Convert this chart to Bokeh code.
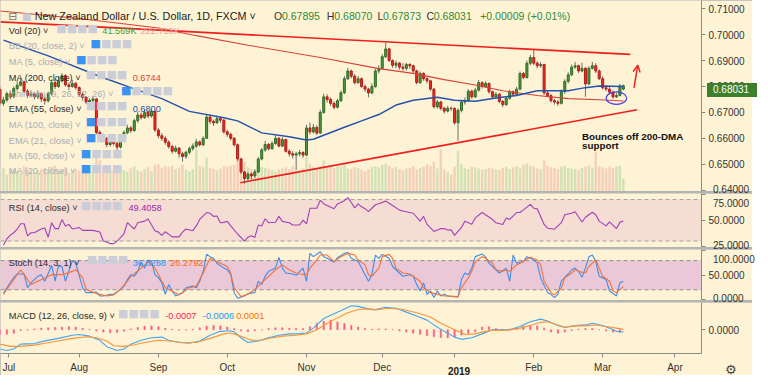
import pandas as pd
from bokeh.plotting import figure
from bokeh.layouts import column
from bokeh.models import (Range1d, FixedTicker, PrintfTickFormatter, Label, Arrow,
                          OpenHead, Span, BoxAnnotation, ColumnDataSource, Div)
from bokeh.embed import file_html
from bokeh.resources import INLINE

# ---------------------------------------------------------------- data
dates = pd.bdate_range("2018-06-29", "2019-03-11")          # one bar per weekday
axis_dates = pd.bdate_range("2018-06-29", "2019-04-30")     # incl. empty future space
month_labels = ["Jul", "Aug", "Sep", "Oct", "Nov", "Dec", "2019", "Feb", "Mar", "Apr"]

first_open = 0.6790
last_open = 0.67895
close = [
    0.6735, 0.6748, 0.6772, 0.6760, 0.6792, 0.6805, 0.6818, 0.6782, 0.6766, 0.6771,
    0.6760, 0.6772, 0.6752, 0.6745, 0.6772, 0.6815, 0.6800, 0.6822, 0.6842, 0.6806,
    0.6800, 0.6812, 0.6796, 0.6770, 0.6758, 0.6740, 0.6746, 0.6752, 0.6622, 0.6610,
    0.6600, 0.6576, 0.6590, 0.6580, 0.6566, 0.6598, 0.6622, 0.6640, 0.6630, 0.6668,
    0.6690, 0.6680, 0.6700, 0.6686, 0.6704, 0.6632, 0.6610, 0.6600, 0.6585, 0.6568,
    0.6550, 0.6562, 0.6540, 0.6530, 0.6546, 0.6560, 0.6570, 0.6586, 0.6575, 0.6600,
    0.6682, 0.6665, 0.6660, 0.6676, 0.6670, 0.6625, 0.6615, 0.6600, 0.6575, 0.6520,
    0.6470, 0.6445, 0.6462, 0.6455, 0.6470, 0.6520, 0.6555, 0.6576, 0.6560, 0.6580,
    0.6600, 0.6570, 0.6595, 0.6550, 0.6540, 0.6535, 0.6540, 0.6545, 0.6535, 0.6640,
    0.6625, 0.6642, 0.6620, 0.6700, 0.6760, 0.6750, 0.6735, 0.6720, 0.6745, 0.6776,
    0.6830, 0.6860, 0.6840, 0.6815, 0.6830, 0.6800, 0.6790, 0.6775, 0.6800, 0.6860,
    0.6870, 0.6915, 0.6945, 0.6900, 0.6882, 0.6890, 0.6875, 0.6870, 0.6885, 0.6880,
    0.6860, 0.6815, 0.6850, 0.6830, 0.6822, 0.6790, 0.6722, 0.6740, 0.6716, 0.6705,
    0.6716, 0.6715, 0.6660, 0.6708, 0.6740, 0.6745, 0.6782, 0.6760, 0.6786, 0.6815,
    0.6800, 0.6812, 0.6780, 0.6760, 0.6770, 0.6742, 0.6730, 0.6755, 0.6780, 0.6770,
    0.6790, 0.6850, 0.6835, 0.6890, 0.6912, 0.6890, 0.6880, 0.6885, 0.6775, 0.6765,
    0.6745, 0.6740, 0.6735, 0.6780, 0.6820, 0.6845, 0.6875, 0.6880, 0.6860, 0.6870,
    0.6810, 0.6870, 0.6880, 0.6860, 0.6830, 0.6795, 0.6790, 0.6778, 0.6760, 0.6765,
    0.6802, 0.68031,
]
high = [
    0.6800, 0.6760, 0.6780, 0.6785, 0.6800, 0.6820, 0.6830, 0.6822, 0.6790, 0.6785,
    0.6778, 0.6783, 0.6776, 0.6760, 0.6780, 0.6826, 0.6830, 0.6838, 0.6852, 0.6848,
    0.6815, 0.6825, 0.6818, 0.6800, 0.6778, 0.6762, 0.6755, 0.6762, 0.6756, 0.6630,
    0.6618, 0.6605, 0.6598, 0.6595, 0.6588, 0.6605, 0.6630, 0.6652, 0.6648, 0.6676,
    0.6702, 0.6700, 0.6712, 0.6708, 0.6712, 0.6706, 0.6640, 0.6620, 0.6608, 0.6592,
    0.6575, 0.6572, 0.6566, 0.6548, 0.6552, 0.6568, 0.6580, 0.6598, 0.6592, 0.6608,
    0.6690, 0.6692, 0.6672, 0.6688, 0.6684, 0.6675, 0.6632, 0.6622, 0.6605, 0.6580,
    0.6525, 0.6475, 0.6470, 0.6468, 0.6480, 0.6528, 0.6562, 0.6590, 0.6582, 0.6588,
    0.6612, 0.6605, 0.6604, 0.6598, 0.6558, 0.6550, 0.6548, 0.6555, 0.6550, 0.6652,
    0.6660, 0.6655, 0.6650, 0.6710, 0.6772, 0.6770, 0.6758, 0.6742, 0.6752, 0.6785,
    0.6840, 0.6872, 0.6865, 0.6848, 0.6840, 0.6835, 0.6808, 0.6795, 0.6812, 0.6868,
    0.6882, 0.6925, 0.6968, 0.6950, 0.6905, 0.6900, 0.6895, 0.6890, 0.6892, 0.6890,
    0.6884, 0.6865, 0.6858, 0.6855, 0.6840, 0.6826, 0.6795, 0.6748, 0.6745, 0.6722,
    0.6725, 0.6722, 0.6720, 0.6715, 0.6748, 0.6758, 0.6790, 0.6788, 0.6795, 0.6825,
    0.6820, 0.6820, 0.6815, 0.6785, 0.6778, 0.6775, 0.6748, 0.6762, 0.6788, 0.6785,
    0.6798, 0.6858, 0.6856, 0.6900, 0.6922, 0.6942, 0.6898, 0.6895, 0.6888, 0.6782,
    0.6770, 0.6752, 0.6748, 0.6788, 0.6828, 0.6855, 0.6885, 0.6895, 0.6885, 0.6892,
    0.6875, 0.6878, 0.6895, 0.6890, 0.6866, 0.6840, 0.6805, 0.6798, 0.6785, 0.6775,
    0.6810, 0.68070,
]
low = [
    0.6725, 0.6725, 0.6740, 0.6750, 0.6755, 0.6785, 0.6800, 0.6775, 0.6755, 0.6758,
    0.6750, 0.6752, 0.6740, 0.6730, 0.6738, 0.6765, 0.6790, 0.6795, 0.6815, 0.6800,
    0.6785, 0.6795, 0.6788, 0.6762, 0.6745, 0.6732, 0.6730, 0.6738, 0.6615, 0.6595,
    0.6585, 0.6565, 0.6568, 0.6572, 0.6555, 0.6560, 0.6590, 0.6615, 0.6620, 0.6625,
    0.6660, 0.6672, 0.6675, 0.6678, 0.6680, 0.6625, 0.6600, 0.6590, 0.6575, 0.6560,
    0.6540, 0.6545, 0.6525, 0.6510, 0.6520, 0.6538, 0.6552, 0.6562, 0.6568, 0.6570,
    0.6598, 0.6655, 0.6648, 0.6655, 0.6660, 0.6618, 0.6605, 0.6592, 0.6568, 0.6512,
    0.6462, 0.6425, 0.6436, 0.6440, 0.6448, 0.6466, 0.6515, 0.6548, 0.6552, 0.6555,
    0.6575, 0.6565, 0.6566, 0.6545, 0.6530, 0.6522, 0.6480, 0.6530, 0.6525, 0.6532,
    0.6615, 0.6618, 0.6612, 0.6618, 0.6695, 0.6738, 0.6725, 0.6712, 0.6715, 0.6740,
    0.6770, 0.6825, 0.6832, 0.6808, 0.6810, 0.6795, 0.6780, 0.6758, 0.6770, 0.6795,
    0.6850, 0.6865, 0.6910, 0.6895, 0.6872, 0.6870, 0.6865, 0.6860, 0.6862, 0.6868,
    0.6850, 0.6808, 0.6810, 0.6822, 0.6812, 0.6782, 0.6715, 0.6715, 0.6708, 0.6695,
    0.6700, 0.6705, 0.6652, 0.6590, 0.6700, 0.6730, 0.6740, 0.6752, 0.6755, 0.6780,
    0.6792, 0.6795, 0.6772, 0.6752, 0.6755, 0.6735, 0.6720, 0.6725, 0.6748, 0.6762,
    0.6765, 0.6785, 0.6828, 0.6830, 0.6882, 0.6882, 0.6870, 0.6872, 0.6768, 0.6758,
    0.6738, 0.6730, 0.6725, 0.6730, 0.6772, 0.6812, 0.6840, 0.6868, 0.6852, 0.6855,
    0.6760, 0.6805, 0.6865, 0.6852, 0.6825, 0.6788, 0.6782, 0.6770, 0.6752, 0.6755,
    0.6762, 0.67873,
]
volume_k = [
    70, 85, 60, 75, 80, 72, 65, 90, 78, 70,
    68, 74, 80, 85, 77, 88, 92, 70, 76, 84,
    66, 72, 80, 75, 70, 68, 74, 95, 130, 110,
    90, 85, 80, 78, 84, 88, 76, 70, 82, 90,
    75, 70, 80, 86, 72, 95, 98, 85, 90, 88,
    92, 80, 85, 95, 78, 72, 80, 150, 92, 88,
    120, 84, 80, 76, 82, 90, 88, 92, 95, 110,
    120, 105, 86, 80, 78, 92, 88, 84, 80, 76,
    72, 78, 82, 86, 80, 90, 84, 78, 82, 125,
    100, 88, 82, 90, 110, 92, 86, 84, 88, 90,
    96, 82, 80, 86, 84, 78, 72, 80, 88, 90,
    86, 95, 100, 92, 84, 88, 80, 76, 82, 85,
    90, 78, 84, 88, 96, 92, 105, 82, 150, 78,
    70, 60, 88, 145, 96, 84, 80, 88, 86, 82,
    78, 80, 85, 82, 78, 76, 84, 88, 80, 86,
    90, 82, 95, 100, 92, 88, 82, 80, 110, 92,
    86, 84, 80, 88, 92, 84, 82, 80, 76, 84,
    88, 92, 85, 140, 90, 86, 82, 88, 84, 90,
    92, 45,
]

# (bar, value) readings of the moving averages
ma200 = [(0, 0.70917), (23, 0.70624), (46, 0.70257), (57, 0.69963), (72, 0.69596),
         (93, 0.69119), (110, 0.68690), (120, 0.68506), (129, 0.68264), (138, 0.68055),
         (146, 0.67835), (156, 0.67651), (165, 0.67530), (174, 0.67486), (181, 0.67440)]
ema55 = [(1, 0.69791), (14, 0.69182), (29, 0.68385), (38, 0.67956), (47, 0.67530),
         (55, 0.67039), (65, 0.66796), (69, 0.66672), (76, 0.66209), (84, 0.66062),
         (89, 0.65938), (91, 0.65963), (100, 0.66429), (105, 0.66672), (110, 0.66917),
         (115, 0.67284), (120, 0.67468), (127, 0.67589), (132, 0.67468), (138, 0.67431),
         (144, 0.67552), (150, 0.67651), (156, 0.67835), (165, 0.67835), (170, 0.67956),
         (174, 0.68018), (181, 0.68000)]

rsi = [(1, 26), (2, 32), (3, 35.7), (4, 38), (5, 41.4), (6, 46.7), (7, 46.7), (8, 35), (9, 38),
       (10, 38), (11, 40), (12, 41.6), (13, 42.6), (14, 33.7), (15, 47.7), (16, 42), (17, 42),
       (18, 50.7), (19, 44.5), (20, 46), (21, 41.6), (23, 43), (24, 40.3), (26, 40.3), (27, 40.3),
       (29, 38.7), (30, 30), (31, 29), (32, 27.5), (33, 27.5), (34, 29.8), (36, 37), (37, 47.7),
       (38, 44.6), (39, 41.6), (40, 47.7), (42, 49.2), (43, 51.3), (45, 40), (46, 38.6), (47, 35.5),
       (48, 39), (50, 34), (52, 34), (53, 38.6), (54, 41.6), (56, 40), (57, 44.6), (58, 50.8),
       (60, 57.5), (61, 56.8), (62, 53.8), (63, 54.2), (64, 47.7), (65, 48), (66, 49), (67, 44.6),
       (69, 36.8), (71, 30), (72, 33.7), (73, 35), (74, 33.5), (75, 45.4), (76, 44.5), (77, 51.5),
       (78, 47.7), (80, 48.2), (81, 53.8), (82, 49), (84, 47.7), (85, 45.5), (87, 45.5), (88, 50.2),
       (89, 46.5), (90, 61.6), (92, 61.6), (93, 69.3), (94, 66), (95, 64.3), (97, 61.2), (98, 65.8),
       (100, 68.9), (101, 71.9), (102, 67.2), (103, 62), (104, 65.8), (105, 63), (106, 61.2),
       (107, 58.3), (109, 65), (110, 66), (112, 68.5), (113, 66.5), (114, 64.3), (116, 59.8),
       (117, 59), (119, 57.5), (120, 56.8), (122, 49.2), (123, 53.8), (124, 46.1), (126, 39.3),
       (128, 42), (129, 42), (130, 40.6), (131, 40.8), (132, 35.5), (134, 43.1), (135, 49.2),
       (137, 46.2), (138, 52.3), (140, 57.5), (141, 55.3), (143, 50.8), (144, 47.7), (146, 46),
       (147, 52.3), (148, 50.8), (150, 57.5), (151, 57.5), (152, 60.1), (154, 65.4), (155, 61.7),
       (156, 61.2), (158, 46), (159, 42.4), (161, 41.4), (163, 47.7), (164, 55.3), (166, 56.8),
       (167, 58.3), (169, 48.4), (170, 53), (172, 57.8), (173, 55.3), (174, 49.2), (176, 44.6),
       (177, 48.4), (179, 42), (180, 48), (181, 49.4)]

stoch_k = [(1, 12.1), (2, 24.2), (3, 35), (4, 45), (5, 52.5), (7, 52.5), (8, 24.2), (9, 34.3),
           (11, 47.7), (12, 51.1), (13, 37.6), (15, 70), (16, 37.6), (17, 70), (18, 67.9), (19, 37.6),
           (21, 79.4), (22, 74.7), (24, 24.2), (25, 14.1), (27, 14.1), (28, 15.4), (29, 7.3), (30, 7.3),
           (32, 10.7), (33, 10.7), (35, 20.8), (36, 27.5), (37, 41), (38, 51.1), (39, 47.7), (40, 57.9),
           (41, 76.7), (42, 64.6), (43, 81.4), (44, 78), (45, 51.1), (46, 45), (47, 34.3), (48, 10.7),
           (49, 30.9), (50, 17.4), (51, 7.3), (52, 10.7), (53, 14.1), (54, 24.2), (56, 27.5), (57, 24.2),
           (58, 37.6), (59, 57.9), (60, 93), (61, 88.2), (62, 84.8), (63, 74.7), (65, 64.6), (66, 61.2),
           (67, 51.1), (68, 14), (69, 2.6), (71, 7.3), (72, 12.1), (74, 14.1), (75, 37.6), (76, 30.9),
           (77, 47.7), (78, 57.9), (80, 64.6), (81, 86.8), (82, 64.6), (83, 54.5), (85, 52.5), (86, 49.8),
           (88, 64.6), (89, 37.6), (90, 94.9), (91, 88.2), (93, 98.3), (94, 88.2), (95, 84.8), (97, 76.7),
           (98, 86.1), (100, 94.9), (101, 96.9), (102, 84.8), (104, 78), (105, 64.6), (107, 37.6),
           (108, 51.1), (109, 91.5), (110, 84.8), (111, 92.9), (113, 84.8), (114, 67.9), (116, 54.5),
           (117, 47.7), (119, 51.1), (120, 47.7), (121, 30.9), (122, 17.4), (123, 34.3), (124, 10.7),
           (125, 17.4), (126, 4.0), (127, 17.4), (128, 7.3), (129, 10.7), (130, 7.3), (131, 6.0),
           (133, 5.3), (134, 41), (135, 54.5), (136, 51.1), (137, 64.6), (138, 88.2), (140, 93.5),
           (141, 88.2), (142, 74.7), (144, 61.2), (145, 54.5), (147, 64.6), (148, 37.6), (149, 91.5),
           (150, 74.7), (152, 78), (153, 88.2), (154, 84.8), (155, 81.4), (156, 74.7), (157, 44.4),
           (159, 14.1), (160, 10.7), (161, 4.0), (162, 10.7), (163, 37.6), (165, 52.5), (166, 61.2),
           (167, 64.6), (168, 57.9), (169, 45.7), (170, 64.6), (171, 88.2), (172, 91.5), (173, 78),
           (174, 47.7), (176, 41), (177, 17.4), (179, 7.3), (180, 34.3), (181, 36.8)]
stoch_d = [(1, 10.7), (3, 30.9), (6, 61.2), (7, 51.1), (9, 30.9), (13, 44.4), (15, 51.1), (18, 51.1),
           (21, 57.9), (22, 61.2), (24, 44.4), (25, 20.8), (28, 12.1), (31, 7.3), (33, 9.4), (35, 20.8),
           (37, 37.6), (38, 47.7), (41, 64.6), (43, 78), (45, 64.6), (47, 37.6), (48, 24.2), (50, 17.4),
           (52, 9.4), (53, 14.1), (55, 24.2), (57, 27.5), (59, 54.5), (61, 84.8), (62, 81.4), (64, 74.7),
           (66, 68), (67, 54.5), (68, 24.2), (70, 6.0), (72, 10.7), (74, 20.8), (76, 34.3), (78, 47.7),
           (80, 61.2), (82, 71.3), (84, 61.2), (86, 54.5), (87, 52.5), (89, 51.1), (90, 64.6), (92, 81.4),
           (93, 91.5), (95, 91.5), (96, 84.8), (97, 78), (99, 88.2), (101, 94.9), (103, 91.5), (104, 81.4),
           (106, 71.3), (107, 51.1), (108, 47.7), (110, 64.6), (111, 88.2), (113, 92.9), (114, 84.8),
           (115, 64.6), (117, 54.5), (119, 52.5), (120, 47.7), (122, 37.6), (123, 24.2), (125, 14.1),
           (127, 10.7), (129, 7.3), (131, 7.3), (133, 5.3), (134, 24.2), (136, 44.4), (137, 57.9),
           (138, 78), (140, 88.2), (141, 84.8), (143, 74.7), (144, 61.2), (146, 57.9), (147, 61.2),
           (148, 57.9), (150, 71.3), (151, 74.7), (153, 83.4), (154, 86.8), (156, 81.4), (157, 71.3),
           (158, 37.6), (160, 14.1), (161, 9.4), (163, 24.2), (164, 44.4), (166, 54.5), (167, 61.2),
           (168, 57.9), (170, 54.5), (171, 67.9), (173, 81.4), (174, 64.6), (175, 47.7), (177, 37.6),
           (178, 17.4), (179, 14.1), (181, 26.3)]

# MACD values in thousandths of a price unit
macd_line = [(0, -5.0), (2, -5.4), (4, -5.0), (6, -3.75), (10, -3.6), (13, -2.9), (17, -2.25),
             (21, -1.42), (23, -1.25), (26, -1.67), (29, -2.75), (31, -4.4), (34, -5.4), (36, -5.0),
             (38, -3.75), (41, -2.75), (44, -2.08), (47, -1.92), (49, -2.75), (52, -3.33), (55, -3.5),
             (58, -2.92), (61, -1.42), (64, -0.42), (67, -0.25), (68, -0.58), (70, -2.08), (72, -3.33),
             (75, -2.92), (78, -2.08), (81, -1.42), (84, -1.08), (86, -1.08), (89, -0.83), (91, 0.42),
             (94, 2.92), (97, 4.17), (100, 5.42), (102, 6.25), (104, 6.08), (107, 5.42), (109, 5.25),
             (112, 5.83), (115, 5.58), (118, 4.58), (121, 3.58), (124, 2.5), (126, 1.25), (129, -0.42),
             (132, -1.92), (134, -2.5), (137, -2.08), (140, -1.08), (143, 0.0), (145, 0.0), (148, 0.0),
             (151, 0.83), (154, 2.08), (157, 2.75), (159, 2.25), (162, 1.08), (164, 0.58), (167, 1.08),
             (170, 1.25), (172, 1.67), (175, 1.08), (177, 0.42), (179, -0.42), (181, -0.6)]
macd_signal = [(0, -3.75), (3, -4.33), (6, -4.33), (10, -4.0), (13, -3.5), (17, -2.92), (21, -2.25),
               (25, -1.83), (28, -2.08), (31, -2.92), (33, -4.17), (36, -4.33), (39, -3.92), (42, -3.33),
               (46, -2.75), (49, -2.92), (53, -3.33), (57, -3.33), (61, -2.25), (65, -1.08), (67, -0.83),
               (70, -1.67), (73, -2.75), (76, -2.75), (79, -2.08), (82, -1.67), (86, -1.42), (89, -1.08),
               (92, 0.0), (95, 1.67), (98, 3.08), (101, 4.42), (104, 5.25), (106, 5.42), (109, 5.17),
               (113, 5.58), (117, 5.25), (121, 4.42), (125, 3.33), (128, 1.67), (132, 0.0), (135, -1.25),
               (138, -1.08), (141, -0.42), (143, -0.17), (147, -0.17), (151, 0.42), (154, 1.08),
               (157, 1.92), (159, 2.08), (162, 1.25), (164, 0.67), (167, 1.0), (170, 1.0), (173, 1.25),
               (176, 0.83), (179, 0.42), (181, 0.1)]
# histogram read at every second bar (bars 0, 2, 4, ...)
macd_hist = [-1.3, -1.2, -0.9, -0.2, -0.1, 0.2, 0.4, 0.5, 0.6, 0.7,
             0.8, 0.7, 0.4, 0.1, -0.3, -0.6, -0.8, -0.7, -0.4, 0.2,
             0.6, 0.9, 1.0, 0.8, 0.4, 0.1, -0.1, -0.1, 0.1, 0.5,
             0.9, 1.1, 1.0, 0.7, 0.3, -0.3, -0.5, -0.3, 0.0, 0.3,
             0.5, 0.5, 0.4, 0.4, 0.3, 0.8, 1.6, 2.2, 2.5, 2.0,
             1.6, 1.1, 0.7, 0.3, 0.1, 0.2, 0.2, 0.0, -0.3, -0.6,
             -0.9, -1.2, -1.5, -1.8, -2.0, -2.1, -1.9, -1.4, -0.9, -0.5,
             0.7, 0.8, 0.3, 0.1, 0.2, 0.5, 0.9, 1.1, 1.0, 0.4,
             -0.6, -0.9, -0.6, -0.2, 0.1, 0.3, 0.3, 0.0, -0.3, -0.6,
             -0.7]

# author drawings (bar, price)
trend_upper = [(0.15, 0.70495), (183.0, 0.69240)]
trend_lower = [(69.8, 0.64286), (185.0, 0.67101)]
circle_mark = (179, 0.6755)
arrow_mark = [(184.1, 0.67945), (185.2, 0.68826)]
note_pos = [(169.0, 0.66055), (169.0, 0.65725)]
note_text = ["Bounces off 200-DMA", "support"]

price_ticks = [0.64, 0.65, 0.66, 0.67, 0.68, 0.69, 0.70, 0.71]
rsi_ticks = [25, 50, 75]
stoch_ticks = [0, 50, 100]
macd_ticks = [0]

# ---------------------------------------------------------------- style
BG = "#FEF3D4"
FONT = "Liberation Sans, DejaVu Sans, sans-serif"
FW = 701
RB = 51
DARK = "#2b2b2b"
FADED = "#AAACB6"
ICON_GRAY = "#CBCED8"
ICON_BLUE = "#3A93F0"
SEP = 2

xr = Range1d(0.15, 203.7)


def panel(fh, yr, ticks, fmt, bottom=0):
    p = figure(frame_width=FW, frame_height=fh, x_range=xr, y_range=yr,
               output_backend="svg", toolbar_location=None, tools="",
               x_axis_location="below" if bottom else None, y_axis_location="right",
               min_border_left=0, min_border_right=RB, min_border_top=0,
               min_border_bottom=bottom, background_fill_color=BG,
               border_fill_color=BG, outline_line_color=None)
    p.grid.visible = False
    ax = p.yaxis[0]
    ax.ticker = FixedTicker(ticks=ticks)
    ax.formatter = PrintfTickFormatter(format=fmt)
    ax.axis_line_color = "#8c8c8c"
    ax.major_tick_line_color = "#8c8c8c"
    ax.major_tick_in = 0
    ax.major_tick_out = 4
    ax.minor_tick_line_color = None
    ax.major_label_text_font = FONT
    ax.major_label_text_font_size = "10px"
    ax.major_label_text_color = "#333333"
    ax.major_label_standoff = 3
    return p


def put_text(p, fh, top, href, x, yb, text, color, size="9.2px", style="normal",
             font=FONT, baseline="alphabetic"):
    p.add_layout(Label(x=x * FW / 716.0, y=fh - (yb - top) * fh / href,
                       x_units="screen", y_units="screen", text=text,
                       text_color=color, text_font_size=size, text_font=font,
                       text_font_style=style, text_baseline=baseline))


def put_icons(p, fh, top, href, x, yc, count, blue):
    put_text(p, fh, top, href, x, yc, "\u25A0" * count, ICON_GRAY, "11px",
             font="DejaVu Sans", baseline="middle")
    if blue:
        put_text(p, fh, top, href, x, yc, "\u25A0", ICON_BLUE, "11px",
                 font="DejaVu Sans", baseline="middle")


overlays = []


def html_text(text, left, top, width, height=12, color="#333333", size="10px",
              weight="normal", align="left", bg=None, extra=None):
    st = {"position": "absolute", "left": "%dpx" % round(left), "top": "%dpx" % round(top),
          "color": color, "font-family": "Liberation Sans, sans-serif", "font-size": size,
          "font-weight": weight, "line-height": "%dpx" % height, "text-align": align,
          "white-space": "nowrap", "z-index": "10"}
    if bg:
        st["background-color"] = bg
    if extra:
        st.update(extra)
    overlays.append(Div(text=text, width=width, height=height, styles=st))


# ---------------------------------------------------------------- main pane
n = len(close)
xs = list(range(n))
opens = [first_open] + close[:-1]
opens[-1] = last_open
is_up = [c >= o for o, c in zip(opens, close)]
csrc = ColumnDataSource(dict(
    x=xs, h=high, l=low,
    top=[max(o, c) for o, c in zip(opens, close)],
    bot=[min(o, c) for o, c in zip(opens, close)],
    fill=["#4E9A3F" if u else "#EE2A22" for u in is_up],
    edge=["#2F6B27" if u else "#B31C16" for u in is_up],
    vol=volume_k,
    vcol=["#D3E2B4" if u else "#F4D0BA" for u in is_up],
))

MH, RH, SH, DH, AXH = 191, 54, 51, 51, 22
RSI_TOP = MH + SEP
STO_TOP = RSI_TOP + RH + SEP
MACD_TOP = STO_TOP + SH + SEP

main_y = Range1d(0.63945, 0.71321)
p1 = panel(MH, main_y, price_ticks, "%.5f")
p1.extra_y_ranges = {"vol": Range1d(0, 680)}
p1.vbar(x="x", top="vol", bottom=0, width=0.72, y_range_name="vol",
        fill_color="vcol", line_color=None, source=csrc)
p1.segment(x0="x", y0="l", x1="x", y1="h", line_color="#6e6e6e", line_width=1, source=csrc)
p1.vbar(x="x", top="top", bottom="bot", width=0.58, fill_color="fill",
        line_color="edge", line_width=1, source=csrc)
p1.line([b for b, v in ma200], [v for b, v in ma200], line_color="#D9413B", line_width=1.1)
p1.line([b for b, v in ema55], [v for b, v in ema55], line_color="#2452B0", line_width=1.5)
p1.line([b for b, v in trend_upper], [v for b, v in trend_upper], line_color="#F01E1E", line_width=1.6)
p1.line([b for b, v in trend_lower], [v for b, v in trend_lower], line_color="#F01E1E", line_width=1.6)
p1.ellipse(x=[circle_mark[0]], y=[circle_mark[1]], width=20.5, height=12.5,
           width_units="screen", height_units="screen", fill_alpha=0,
           line_color="#3F3FE6", line_width=1.2)
p1.add_layout(Arrow(end=OpenHead(size=7, line_color="#EE2222", line_width=1.5),
                    x_start=arrow_mark[0][0], y_start=arrow_mark[0][1],
                    x_end=arrow_mark[1][0], y_end=arrow_mark[1][1],
                    line_color="#EE2222", line_width=1.5))
for (bx, by), t in zip(note_pos, note_text):
    p1.add_layout(Label(x=bx, y=by, text=t, text_font=FONT, text_font_style="bold",
                        text_font_size="9.8px", text_color="#111111",
                        text_baseline="alphabetic"))

T0, TH = 0, 201
put_text(p1, MH, T0, TH, 8, 17, "\u229F", "#777777", "11px", font="DejaVu Sans")
put_text(p1, MH, T0, TH, 22, 17, "\u25A0", "#C8CBD4", "10px", font="DejaVu Sans")
put_text(p1, MH, T0, TH, 35, 16.5, "New Zealand Dollar / U.S. Dollar, 1D, FXCM \u02C5", "#222222", "10.8px")
for lx, letter, vx, val in [(279.3, "O", 287.5, "0.67895"), (333.3, "H", 341.0, "0.68070"),
                            (385.0, "L", 390.8, "0.67873"), (435.0, "C", 442.6, "0.68031")]:
    put_text(p1, MH, T0, TH, lx, 16.5, letter, "#333333", "10.5px")
    put_text(p1, MH, T0, TH, vx, 16.5, val, "#2E8B37", "10.5px")
put_text(p1, MH, T0, TH, 490, 16.5, "+0.00009 (+0.01%)", "#2E8B37", "10.5px")

rows = [
    ("Vol (20) \u02C5", DARK, 57, 4, False),
    ("BB (20, close, 2) \u02C5", FADED, 92, 4, True),
    ("MA (5, close) \u02C5", FADED, 77, 4, True),
    ("MA (200, close) \u02C5", DARK, 87, 4, False),
    ("Ichimoku (9, 26, 52, 26) \u02C5", FADED, 123, 5, True),
    ("EMA (55, close) \u02C5", DARK, 87, 4, False),
    ("MA (100, close) \u02C5", FADED, 87, 4, True),
    ("EMA (21, close) \u02C5", FADED, 87, 4, True),
    ("MA (50, close) \u02C5", FADED, 82, 4, True),
    ("MA (20, close) \u02C5", FADED, 82, 4, True),
]
centers = [29.3, 45, 61.7, 78.3, 95, 111, 127.7, 144.3, 160.7, 176.7]
for (label, col, ix, cnt, blue), yc in zip(rows, centers):
    put_text(p1, MH, T0, TH, 8.5, yc + 3.2, label, col)
    put_icons(p1, MH, T0, TH, ix, yc, cnt, blue)
put_text(p1, MH, T0, TH, 104, 29.3 + 3.2, "41.569K", "#3BA03B")
put_text(p1, MH, T0, TH, 143, 29.3 + 3.2, "222.713K", "#ECA6A2")
put_text(p1, MH, T0, TH, 135, 78.3 + 3.2, "0.6744", "#E0403A")
put_text(p1, MH, T0, TH, 135, 111 + 3.2, "0.6800", "#2350A8")

# ---------------------------------------------------------------- RSI pane
p2 = panel(RH, Range1d(23.77, 75.86), rsi_ticks, "%.4f")
p2.add_layout(BoxAnnotation(bottom=30, top=70, fill_color="#F5DDD3", fill_alpha=1.0,
                            line_color=None, level="underlay"))
for lv in (70, 30):
    p2.add_layout(Span(location=lv, dimension="width", line_color="#A0A0A0",
                       line_dash="4 3", line_width=1, level="underlay"))
p2.line([b for b, v in rsi], [v for b, v in rsi], line_color="#A041B8", line_width=1.1)
put_text(p2, RH, 203, 56, 8.5, 218.3, "RSI (14, close) \u02C5", DARK)
put_icons(p2, RH, 203, 56, 82, 215, 4, False)
put_text(p2, RH, 203, 56, 130.7, 218.3, "49.4058", "#9C27B0")

# ---------------------------------------------------------------- Stoch pane
p3 = panel(SH, Range1d(-2.1, 102.9), stoch_ticks, "%.4f")
p3.add_layout(BoxAnnotation(bottom=20, top=80, fill_color="#EBC8D8", fill_alpha=1.0,
                            line_color=None, level="underlay"))
for lv in (80, 20):
    p3.add_layout(Span(location=lv, dimension="width", line_color="#8E8E8E",
                       line_dash="4 3", line_width=1, level="underlay"))
p3.line([b for b, v in stoch_k], [v for b, v in stoch_k], line_color="#3C8DEB", line_width=1.1)
p3.line([b for b, v in stoch_d], [v for b, v in stoch_d], line_color="#F4703A", line_width=1.1)
put_text(p3, SH, 261, 52, 8.5, 275, "Stoch (14, 3, 1) \u02C5", DARK)
put_icons(p3, SH, 261, 52, 88, 271.7, 4, False)
put_text(p3, SH, 261, 52, 135, 275, "36.8288", "#2196F3")
put_text(p3, SH, 261, 52, 173.3, 275, "26.2792", "#FF6D00")

# ---------------------------------------------------------------- MACD pane
p4 = panel(DH, Range1d(-6.18, 7.08), macd_ticks, "%.4f", bottom=AXH)
hist_bars = list(range(0, 2 * len(macd_hist), 2))
p4.vbar(x=hist_bars, top=macd_hist, bottom=0, width=0.38, fill_color="#FF5A86",
        line_color="#FF5A86", line_width=0.6)
p4.line([b for b, v in macd_line], [v for b, v in macd_line], line_color="#45A5F3", line_width=1.1)
p4.line([b for b, v in macd_signal], [v for b, v in macd_signal], line_color="#FB9538", line_width=1.1)
put_text(p4, DH, 315, 53, 8.5, 329.3, "MACD (12, 26, close, 9) \u02C5", DARK)
put_icons(p4, DH, 315, 53, 120, 326, 4, False)
put_text(p4, DH, 315, 53, 168.3, 329.3, "-0.0007", "#FF2058")
put_text(p4, DH, 315, 53, 206.7, 329.3, "-0.0006", "#2196F3")
put_text(p4, DH, 315, 53, 240.7, 329.3, "0.0001", "#FF6D00")

month_starts = [i for i in range(1, len(axis_dates))
                if axis_dates[i].month != axis_dates[i - 1].month]
tick_pos = [max(m, 2.6) for m in month_starts]     # first label nudged inside the canvas
xa = p4.xaxis[0]
xa.ticker = FixedTicker(ticks=tick_pos)
xa.major_label_overrides = {m: ("" if lbl == "2019" else lbl)
                            for m, lbl in zip(tick_pos, month_labels)}
xa.axis_line_color = "#8c8c8c"
xa.major_tick_line_color = "#8c8c8c"
xa.major_tick_in = 0
xa.major_tick_out = 4
xa.minor_tick_line_color = None
xa.major_label_text_font = FONT
xa.major_label_text_font_size = "10px"
xa.major_label_text_color = "#333333"
xa.major_label_standoff = 4

# ---------------------------------------------------------------- scale labels at pane edges
# (tick marks stay on the axes; edge labels are drawn just inside their pane)
LBL_X = FW + 7
p1.yaxis[0].major_label_overrides = {0.64: ""}
p2.yaxis[0].major_label_overrides = {75: "", 25: ""}
p3.yaxis[0].major_label_overrides = {100: "", 0: ""}
html_text("%.5f" % price_ticks[0], LBL_X, MH - 12, 44)
html_text("%.4f" % rsi_ticks[-1], LBL_X, RSI_TOP, 44)
html_text("%.4f" % rsi_ticks[0], LBL_X, RSI_TOP + RH - 12, 44)
html_text("%.4f" % stoch_ticks[-1], LBL_X, STO_TOP, 44)
html_text("%.4f" % stoch_ticks[0], LBL_X, STO_TOP + SH - 12, 44)

# bold year label on the time scale
yr_idx = month_labels.index("2019")
yr_px = (tick_pos[yr_idx] - xr.start) / (xr.end - xr.start) * FW
html_text(month_labels[yr_idx], yr_px - 16, MACD_TOP + DH + 8, 32, color="#222222",
          weight="bold", align="center")

# last-price tag on the price scale
tag_top = (main_y.end - close[-1]) / (main_y.end - main_y.start) * MH - 7
html_text("%.5f" % close[-1], FW + 1, tag_top, 50, height=14, color="#ffffff",
          bg="#3E7F2B", extra={"padding-left": "6px", "box-sizing": "border-box"})
# settings glyph in the corner
html_text("\u2699", FW + 19, MACD_TOP + DH + 4, 16, height=16, color="#444444", size="13px",
          extra={"font-family": "DejaVu Sans, sans-serif"})

layout = column(p1, p2, p3, p4, *overlays, spacing=SEP,
                styles={"background-color": "#B4B4B4"})
open("out.html", "w").write(file_html(layout, INLINE))
